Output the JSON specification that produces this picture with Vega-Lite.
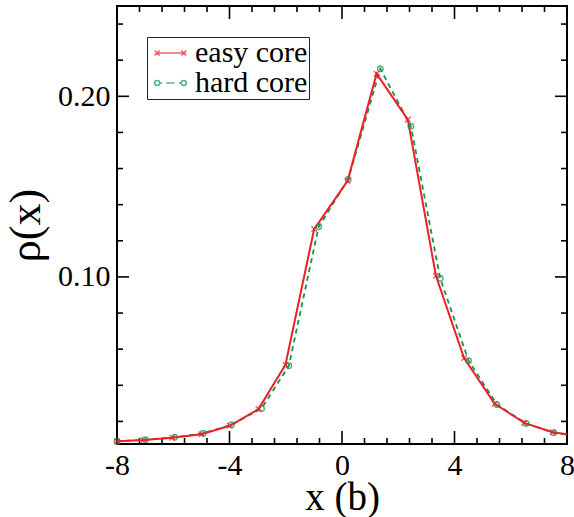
{
  "$schema": "https://vega.github.io/schema/vega-lite/v6.json",
  "width": 450,
  "height": 438,
  "autosize": {"type": "none"},
  "padding": {"left": 117, "top": 6, "right": 7, "bottom": 73},
  "background": "white",
  "config": {
    "view": {"stroke": "black", "strokeWidth": 2},
    "font": "Liberation Serif",
    "axis": {
      "domain": false,
      "grid": false,
      "ticks": false,
      "labelFont": "Liberation Serif",
      "titleFont": "Liberation Serif",
      "labelColor": "black",
      "titleColor": "black",
      "titleFontWeight": "normal"
    }
  },
  "datasets": {
    "profile": [
      {"model": "easy core", "x": -8.00, "rho": 0.0090},
      {"model": "easy core", "x": -7.05, "rho": 0.0097},
      {"model": "easy core", "x": -6.04, "rho": 0.0110},
      {"model": "easy core", "x": -5.00, "rho": 0.0129},
      {"model": "easy core", "x": -3.99, "rho": 0.0176},
      {"model": "easy core", "x": -2.97, "rho": 0.0268},
      {"model": "easy core", "x": -2.01, "rho": 0.0514},
      {"model": "easy core", "x": -0.99, "rho": 0.1265},
      {"model": "easy core", "x": 0.20, "rho": 0.1532},
      {"model": "easy core", "x": 1.23, "rho": 0.2125},
      {"model": "easy core", "x": 2.34, "rho": 0.1871},
      {"model": "easy core", "x": 3.34, "rho": 0.1006},
      {"model": "easy core", "x": 4.34, "rho": 0.0551},
      {"model": "easy core", "x": 5.43, "rho": 0.0298},
      {"model": "easy core", "x": 6.48, "rho": 0.0192},
      {"model": "easy core", "x": 7.49, "rho": 0.0140},
      {"model": "easy core", "x": 8.50, "rho": 0.0117},
      {"model": "hard core", "x": -8.00, "rho": 0.0090},
      {"model": "hard core", "x": -6.99, "rho": 0.0098},
      {"model": "hard core", "x": -5.95, "rho": 0.0112},
      {"model": "hard core", "x": -4.94, "rho": 0.0134},
      {"model": "hard core", "x": -3.93, "rho": 0.0181},
      {"model": "hard core", "x": -2.86, "rho": 0.0272},
      {"model": "hard core", "x": -1.89, "rho": 0.0508},
      {"model": "hard core", "x": -0.83, "rho": 0.1278},
      {"model": "hard core", "x": 0.22, "rho": 0.1540},
      {"model": "hard core", "x": 1.36, "rho": 0.2153},
      {"model": "hard core", "x": 2.45, "rho": 0.1834},
      {"model": "hard core", "x": 3.49, "rho": 0.0993},
      {"model": "hard core", "x": 4.50, "rho": 0.0536},
      {"model": "hard core", "x": 5.51, "rho": 0.0293},
      {"model": "hard core", "x": 6.55, "rho": 0.0188},
      {"model": "hard core", "x": 7.53, "rho": 0.0137},
      {"model": "hard core", "x": 8.55, "rho": 0.0116}
    ],
    "xticks": [
      {"x": -8, "kind": "major"}, {"x": -4, "kind": "major"}, {"x": 0, "kind": "major"},
      {"x": 4, "kind": "major"}, {"x": 8, "kind": "major"},
      {"x": -7.2, "kind": "minor"}, {"x": -6.4, "kind": "minor"}, {"x": -5.6, "kind": "minor"},
      {"x": -4.8, "kind": "minor"}, {"x": -3.2, "kind": "minor"}, {"x": -2.4, "kind": "minor"},
      {"x": -1.6, "kind": "minor"}, {"x": -0.8, "kind": "minor"}, {"x": 0.8, "kind": "minor"},
      {"x": 1.6, "kind": "minor"}, {"x": 2.4, "kind": "minor"}, {"x": 3.2, "kind": "minor"},
      {"x": 4.8, "kind": "minor"}, {"x": 5.6, "kind": "minor"}, {"x": 6.4, "kind": "minor"},
      {"x": 7.2, "kind": "minor"}
    ],
    "yticks": [
      {"rho": 0.10, "kind": "major"}, {"rho": 0.20, "kind": "major"},
      {"rho": 0.02, "kind": "minor"}, {"rho": 0.04, "kind": "minor"}, {"rho": 0.06, "kind": "minor"},
      {"rho": 0.08, "kind": "minor"}, {"rho": 0.12, "kind": "minor"}, {"rho": 0.14, "kind": "minor"},
      {"rho": 0.16, "kind": "minor"}, {"rho": 0.18, "kind": "minor"}, {"rho": 0.22, "kind": "minor"},
      {"rho": 0.24, "kind": "minor"}
    ]
  },
  "layer": [
    {
      "data": {"name": "xticks"},
      "transform": [{"filter": "datum.kind === 'major'"}],
      "mark": {"type": "tick", "orient": "vertical", "color": "black", "opacity": 1, "size": 13, "thickness": 1.6, "yOffset": -6.5},
      "encoding": {
        "x": {"field": "x", "type": "quantitative"},
        "y": {"datum": 0.0075, "type": "quantitative"}
      }
    },
    {
      "data": {"name": "xticks"},
      "transform": [{"filter": "datum.kind === 'minor'"}],
      "mark": {"type": "tick", "orient": "vertical", "color": "black", "opacity": 1, "size": 6, "thickness": 1.6, "yOffset": -3},
      "encoding": {
        "x": {"field": "x", "type": "quantitative"},
        "y": {"datum": 0.0075, "type": "quantitative"}
      }
    },
    {
      "data": {"name": "xticks"},
      "transform": [{"filter": "datum.kind === 'major'"}],
      "mark": {"type": "tick", "orient": "vertical", "color": "black", "opacity": 1, "size": 13, "thickness": 1.6, "yOffset": 6.5},
      "encoding": {
        "x": {"field": "x", "type": "quantitative"},
        "y": {"datum": 0.25, "type": "quantitative"}
      }
    },
    {
      "data": {"name": "xticks"},
      "transform": [{"filter": "datum.kind === 'minor'"}],
      "mark": {"type": "tick", "orient": "vertical", "color": "black", "opacity": 1, "size": 6, "thickness": 1.6, "yOffset": 3},
      "encoding": {
        "x": {"field": "x", "type": "quantitative"},
        "y": {"datum": 0.25, "type": "quantitative"}
      }
    },
    {
      "data": {"name": "yticks"},
      "transform": [{"filter": "datum.kind === 'major'"}],
      "mark": {"type": "tick", "orient": "horizontal", "color": "black", "opacity": 1, "size": 12, "thickness": 1.6, "xOffset": 6},
      "encoding": {
        "y": {"field": "rho", "type": "quantitative"},
        "x": {"datum": -8, "type": "quantitative"}
      }
    },
    {
      "data": {"name": "yticks"},
      "transform": [{"filter": "datum.kind === 'minor'"}],
      "mark": {"type": "tick", "orient": "horizontal", "color": "black", "opacity": 1, "size": 6, "thickness": 1.6, "xOffset": 3},
      "encoding": {
        "y": {"field": "rho", "type": "quantitative"},
        "x": {"datum": -8, "type": "quantitative"}
      }
    },
    {
      "data": {"name": "yticks"},
      "transform": [{"filter": "datum.kind === 'major'"}],
      "mark": {"type": "tick", "orient": "horizontal", "color": "black", "opacity": 1, "size": 12, "thickness": 1.6, "xOffset": -6},
      "encoding": {
        "y": {"field": "rho", "type": "quantitative"},
        "x": {"datum": 8, "type": "quantitative"}
      }
    },
    {
      "data": {"name": "yticks"},
      "transform": [{"filter": "datum.kind === 'minor'"}],
      "mark": {"type": "tick", "orient": "horizontal", "color": "black", "opacity": 1, "size": 6, "thickness": 1.6, "xOffset": -3},
      "encoding": {
        "y": {"field": "rho", "type": "quantitative"},
        "x": {"datum": 8, "type": "quantitative"}
      }
    },
    {
      "data": {"name": "profile"},
      "transform": [{"filter": "datum.model === 'hard core'"}],
      "mark": {"type": "line", "color": "#12944a", "strokeWidth": 1.8, "strokeDash": [5, 4], "clip": true},
      "encoding": {
        "x": {
          "field": "x", "type": "quantitative",
          "scale": {"domain": [-8, 8], "nice": false, "zero": false},
          "axis": {
            "orient": "bottom", "values": [-8, -4, 0, 4, 8],
            "labelExpr": "'' + datum.value", "labelFontSize": 30, "labelPadding": 30,
            "labelBaseline": "alphabetic", "labelFlush": false, "labelOverlap": false,
            "title": "x (b)", "titleFontSize": 39, "titleY": 65, "titleBaseline": "alphabetic"
          }
        },
        "y": {
          "field": "rho", "type": "quantitative",
          "scale": {"domain": [0.0075, 0.25], "nice": false, "zero": false},
          "axis": {
            "orient": "left", "values": [0.1, 0.2],
            "format": ".2f", "labelFontSize": 30, "labelPadding": 7,
            "labelOverlap": false,
            "title": "ρ(x)", "titleFontSize": 44, "titleX": -78, "titleBaseline": "alphabetic"
          }
        }
      }
    },
    {
      "data": {"name": "profile"},
      "transform": [{"filter": "datum.model === 'easy core'"}],
      "mark": {"type": "line", "color": "#f01e28", "strokeWidth": 2, "clip": true},
      "encoding": {
        "x": {"field": "x", "type": "quantitative"},
        "y": {"field": "rho", "type": "quantitative"}
      }
    },
    {
      "data": {"name": "profile"},
      "transform": [{"filter": "datum.model === 'hard core' && datum.x <= 8"}],
      "mark": {"type": "point", "shape": "circle", "filled": false, "color": "#12944a", "size": 30, "strokeWidth": 1.5},
      "encoding": {
        "x": {"field": "x", "type": "quantitative"},
        "y": {"field": "rho", "type": "quantitative"}
      }
    },
    {
      "data": {"name": "profile"},
      "transform": [{"filter": "datum.model === 'easy core' && datum.x <= 8"}],
      "mark": {"type": "point", "shape": "M-1,-1L1,1M-1,1L1,-1", "filled": false, "color": "#f01e28", "size": 30, "strokeWidth": 1.5},
      "encoding": {
        "x": {"field": "x", "type": "quantitative"},
        "y": {"field": "rho", "type": "quantitative"}
      }
    },
    {
      "data": {"name": "profile"},
      "transform": [{"filter": "false"}],
      "mark": {"type": "point", "filled": false},
      "encoding": {
        "color": {
          "field": "model", "type": "nominal",
          "scale": {"domain": ["easy core", "hard core"], "range": ["#f01e28", "#12944a"]},
          "legend": {
            "title": null, "orient": "none", "legendX": 30, "legendY": 31,
            "symbolSize": 441, "symbolStrokeWidth": 1.6, "symbolFillColor": "transparent",
            "symbolOffset": 7.5,
            "labelFont": "Liberation Serif", "labelFontSize": 30, "labelColor": "black",
            "labelOffset": 9.5, "rowPadding": 0,
            "strokeColor": "#222222", "fillColor": "white", "padding": 1
          }
        },
        "shape": {
          "field": "model", "type": "nominal",
          "scale": {
            "domain": ["easy core", "hard core"],
            "range": [
              "M-1.43,0L1.43,0M-1.51,-0.24L-1.03,0.24M-1.51,0.24L-1.03,-0.24M1.03,-0.24L1.51,0.24M1.03,0.24L1.51,-0.24",
              "M-1.51,0A0.24,0.24 0 1 1 -1.03,0A0.24,0.24 0 1 1 -1.51,0ZM-1.03,0L-0.8,0M-0.4,0L0.4,0M0.8,0L1.03,0M1.03,0A0.24,0.24 0 1 1 1.51,0A0.24,0.24 0 1 1 1.03,0Z"
            ]
          },
          "legend": {
            "title": null, "orient": "none", "legendX": 30, "legendY": 31,
            "symbolSize": 441, "symbolStrokeWidth": 1.6, "symbolFillColor": "transparent",
            "symbolOffset": 7.5,
            "labelFont": "Liberation Serif", "labelFontSize": 30, "labelColor": "black",
            "labelOffset": 9.5, "rowPadding": 0,
            "strokeColor": "#222222", "fillColor": "white", "padding": 1
          }
        }
      }
    }
  ]
}
